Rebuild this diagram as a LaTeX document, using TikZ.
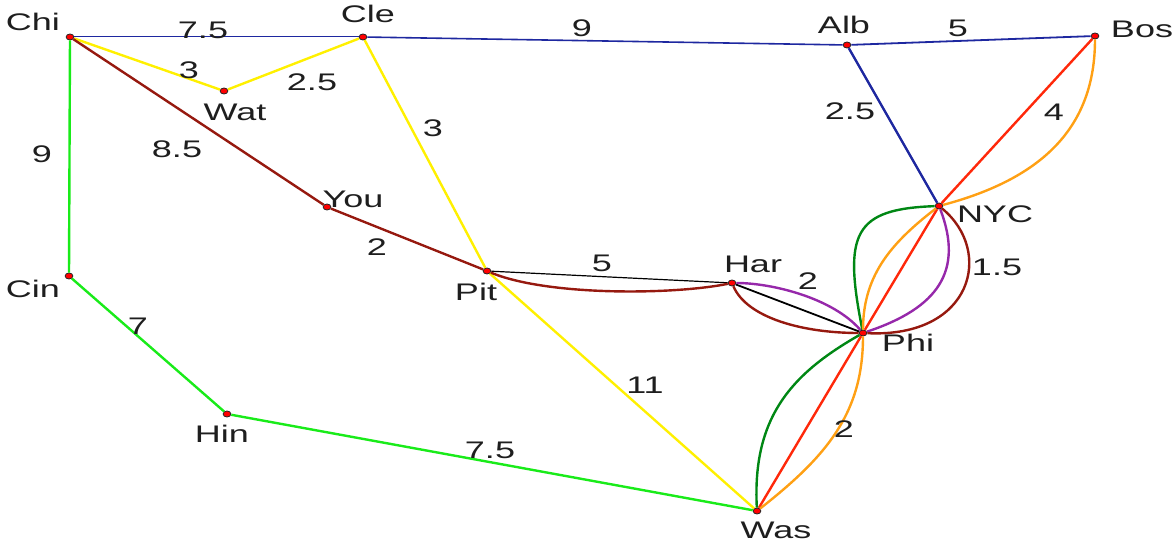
\documentclass[tikz,border=0pt]{standalone}
\usepackage{fontspec}
\setmainfont{Liberation Sans}
\usepackage{tikz}
\usetikzlibrary{calc}
\usepackage{xcolor}
\definecolor{myblue}{RGB}{30,40,160}
\definecolor{myyellow}{RGB}{255,240,0}
\definecolor{mybrown}{RGB}{150,25,15}
\definecolor{mylime}{RGB}{25,235,25}
\definecolor{mygreen}{RGB}{0,135,20}
\definecolor{myred}{RGB}{255,40,10}
\definecolor{myorange}{RGB}{255,160,20}
\definecolor{mypurple}{RGB}{150,40,170}
\definecolor{txtcol}{RGB}{30,30,30}

\begin{document}
\begin{tikzpicture}[x=0.5pt, y=-0.5pt,
  city/.style={circle, fill=red, draw=black!85, line width=0.4pt, inner sep=0pt, minimum size=3pt, xscale=1.3},
  road/.style={line width=1.2pt},
  lbl/.style={font=\fontsize{12}{14}\selectfont, text=txtcol, inner sep=0pt, xscale=1.5}]
  \useasboundingbox (0,0) rectangle (1174,545);
  % cities
  \foreach \n/\x/\y in {Chi/70/37, Cle/363/37, Wat/224/91, Alb/847/45, Bos/1095/36,
      You/327/207, Pit/487/271, Har/732/283, NYC/939/206, Phi/863/333,
      Cin/69/276, Hin/227/414, Was/757/511}{
    \node[city] (\n) at (\x,\y) {};
  }
  % straight roads
  \draw[myblue, line width=0.5pt] (Chi) -- (Cle);
  \draw[myblue, line width=0.8pt] (Cle) -- (Alb);
  \draw[myblue, line width=0.9pt] (Alb) -- (Bos);
  \draw[black, line width=0.6pt] (Pit) -- (Har);
  \draw[black, line width=0.9pt] (Har) -- (Phi);
  \foreach \a/\b/\c in {Chi/Wat/myyellow, Wat/Cle/myyellow, Cle/Pit/myyellow, Pit/Was/myyellow,
      Chi/You/mybrown, You/Pit/mybrown, Chi/Cin/mylime, Cin/Hin/mylime, Hin/Was/mylime,
      Alb/NYC/myblue, Bos/NYC/myred, NYC/Phi/myred, Phi/Was/myred}{
    \draw[road, \c] (\a) -- (\b);
  }
  % parallel lines
  \draw[road, mybrown] (Pit) .. controls +(60,25) and +(-60,12) .. (Har);
  \draw[road, mypurple] (Har) .. controls +(40,0) and +(-30,-35) .. (Phi);
  \draw[road, mybrown] (Har) .. controls +(15,35) and +(-60,0) .. (Phi);
  \draw[road, mygreen] (NYC) .. controls +(-85,3) and +(-20,-100) .. (Phi);
  \draw[road, myorange] (NYC) .. controls +(-45,35) and +(0,-60) .. (Phi);
  \draw[road, mypurple] (NYC) .. controls +(25,65) and +(75,-25) .. (Phi);
  \draw[road, mybrown] (NYC) .. controls +(55,45) and +(110,5) .. (Phi);
  \draw[road, myorange] (Bos) .. controls +(0,90) and +(105,-28) .. (NYC);
  \draw[road, mygreen] (Phi) .. controls +(-70,40) and +(-5,-95) .. (Was);
  \draw[road, myorange] (Phi) .. controls +(0,80) and +(70,-55) .. (Was);
  % names
  \foreach \n/\x/\y in {Chi/33/22, Cle/368/14, Wat/235/112, Alb/844/25, Bos/1142/29,
      You/353/199, Pit/476/292, Har/753/264, NYC/995/214, Phi/908/343,
      Cin/33/289, Hin/222/434, Was/776/530}{
    \node[lbl] (\n-name) at (\x,\y) {\n};
  }
  % distances
  \foreach \x/\y/\t [count=\i] in {203/30/7.5, 189/70/3, 312/82/2.5, 42/154/9, 177/149/8.5,
      582/28/9, 958/28/5, 850/111/2.5, 1054/112/4, 997/267/1.5, 808/281/2,
      602/263/5, 377/247/2, 433/128/3, 645/385/11, 138/326/7, 490/450/7.5, 844/429/2}{
    \node[lbl] (w\i) at (\x,\y) {\t};
  }
\end{tikzpicture}
\end{document}
